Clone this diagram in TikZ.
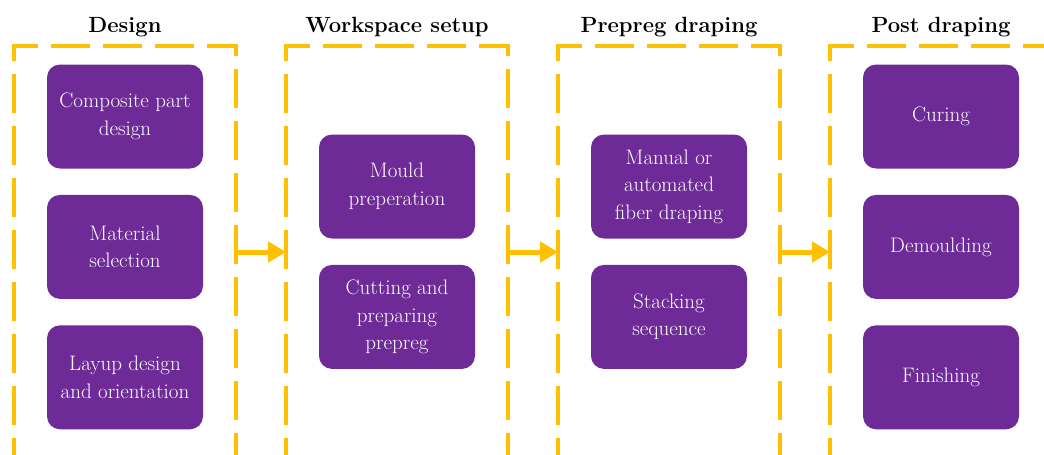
\documentclass[tikz,border=0pt]{standalone}
\usepackage{fontspec}
\usepackage{tikz}
\usetikzlibrary{positioning,arrows.meta}
\definecolor{cGold}{HTML}{FFC000}
\definecolor{cPurple}{HTML}{6E2A96}
\tikzset{
  stage/.style={draw=cGold, line width=4pt, dash pattern=on 39pt off 13pt,
                minimum width=222pt, minimum height=412pt, inner sep=0pt, outer sep=0pt},
  task/.style={fill=cPurple, rounded corners=13pt, text=white, align=center,
               minimum width=156pt, minimum height=104pt, inner sep=2pt,
               font=\fontsize{21}{27.5}\selectfont},
  ttl/.style={font=\fontsize{22}{28}\selectfont\bfseries, anchor=base},
  ar/.style={-{Triangle[length=18pt,width=20pt]}, cGold, line width=5pt}
}
\begin{document}
\begin{tikzpicture}[x=1pt,y=-1pt]
\useasboundingbox (0,0) rectangle (1044,455);
% stages
\node[stage] (design) at (125,252) {};
\node[stage, right=50pt of design] (setup) {};
\node[stage, right=50pt of setup] (drape) {};
\node[stage, right=50pt of drape] (post) {};
\node[ttl] (tDesign) at ([yshift=14pt]design.north) {Design};
\node[ttl] (tSetup) at ([yshift=14pt]setup.north) {Workspace setup};
\node[ttl] (tDrape) at ([yshift=14pt]drape.north) {Prepreg draping};
\node[ttl] (tPost) at ([yshift=14pt]post.north) {Post draping};
% tasks
\node[task] (part) at (125,116.5) {Composite part\\design};
\node[task, below=26pt of part] (mat) {Material\\selection};
\node[task, below=26pt of mat] (layup) {Layup design\\and orientation};
\node[task] (mould) at (397,186.5) {Mould\\preperation};
\node[task, below=26pt of mould] (cut) {Cutting and\\preparing\\prepreg};
\node[task] (fiber) at (669,186.5) {Manual or\\automated\\fiber draping};
\node[task, below=26pt of fiber] (stack) {Stacking\\sequence};
\node[task] (cure) at (941,116.5) {Curing};
\node[task, below=26pt of cure] (demould) {Demoulding};
\node[task, below=26pt of demould] (finish) {Finishing};
\draw[ar](design)--(setup);\draw[ar](setup)--(drape);\draw[ar](drape)--(post);
\end{tikzpicture}
\end{document}
